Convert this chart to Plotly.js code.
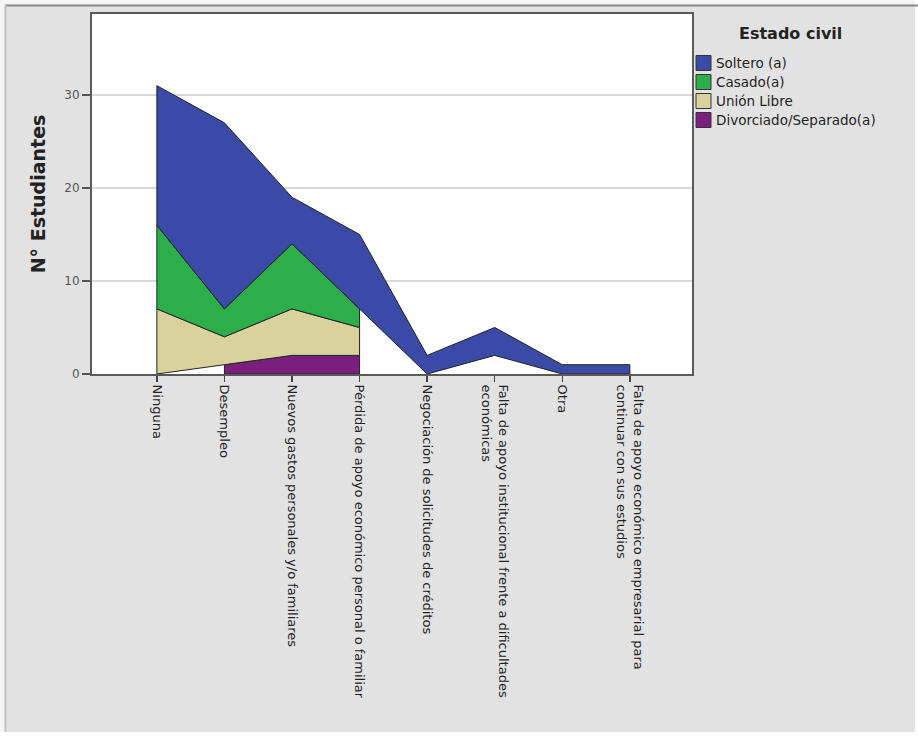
<!DOCTYPE html>
<html>
<head>
<meta charset="utf-8">
<script src="https://cdn.plot.ly/plotly-3.0.1.min.js"></script>
<style>html,body{margin:0;padding:0;background:#fff;}#chart{width:918px;height:739px;}</style>
</head>
<body>
<div id="chart"></div>
<script>
// ---- data ----
const categories = [
  "Ninguna",
  "Desempleo",
  "Nuevos gastos personales y/o familiares",
  "Pérdida de apoyo económico personal o familiar",
  "Negociación de solicitudes de créditos",
  "Falta de apoyo institucional frente a dificultades<br>económicas",
  "Otra",
  "Falta de apoyo económico empresarial para<br>continuar con sus estudios"
];
const seriesNames = ["Soltero (a)", "Casado(a)", "Unión Libre", "Divorciado/Separado(a)"];
const soltero    = [15, 20, 5, 8, 2, 3, 1, 1];
const casado     = [9, 3, 7, 2, null, 2, null, null];
const unionLibre = [7, 3, 5, 3, null, null, null, null];
const divorciado = [null, 1, 2, 2, null, null, null, null];
const yTicks = [0, 10, 20, 30];

// ---- styles ----
const colors = ["#3A4AA6", "#2CAE4B", "#D9D29D", "#7B1F7D"];
const FONT = "DejaVu Sans, Liberation Sans, Arial, sans-serif";

// stacking order bottom -> top
const stackOrder = [divorciado, unionLibre, casado, soltero];
const stackColors = [colors[3], colors[2], colors[1], colors[0]];
const stackNames = [seriesNames[3], seriesNames[2], seriesNames[1], seriesNames[0]];

const n = categories.length;
let base = new Array(n).fill(0);
const traces = [];
stackOrder.forEach((vals, s) => {
  const top = vals.map((v, i) => base[i] + (v == null ? 0 : v));
  // contiguous runs of non-null values
  let i = 0;
  while (i < n) {
    if (vals[i] == null) { i++; continue; }
    let j = i;
    while (j + 1 < n && vals[j + 1] != null) j++;
    if (j > i) {
      const xs = [], ys = [];
      for (let k = i; k <= j; k++) { xs.push(categories[k]); ys.push(top[k]); }
      for (let k = j; k >= i; k--) { xs.push(categories[k]); ys.push(base[k]); }
      xs.push(categories[i]); ys.push(top[i]);
      traces.push({
        type: "scatter", mode: "lines", x: xs, y: ys, fill: "toself",
        fillcolor: stackColors[s], line: {color: "#1e2420", width: 1},
        name: stackNames[s], showlegend: false, hoverinfo: "skip"
      });
    }
    i = j + 1;
  }
  base = top;
});

// pixel helpers for layout decorations
const L = 92, R = 692, T = 14, B = 374;
const px = v => (v - L) / (R - L);
const py = v => (B - v) / (B - T);

const shapes = [
  // outer frame
  {type:"rect", xref:"paper", yref:"paper", x0:px(0), x1:px(918), y0:py(0), y1:py(4.5), fillcolor:"#f4f4f4", line:{width:0}, layer:"below"},
  {type:"rect", xref:"paper", yref:"paper", x0:px(0), x1:px(4.5), y0:py(0), y1:py(739), fillcolor:"#f4f4f4", line:{width:0}, layer:"below"},
  {type:"rect", xref:"paper", yref:"paper", x0:px(0), x1:px(918), y0:py(732), y1:py(739), fillcolor:"#ffffff", line:{width:0}, layer:"below"},
  {type:"rect", xref:"paper", yref:"paper", x0:px(915), x1:px(918), y0:py(0), y1:py(739), fillcolor:"#ffffff", line:{width:0}, layer:"below"},
  {type:"line", xref:"paper", yref:"paper", x0:px(5), x1:px(918), y0:py(5.5), y1:py(5.5), line:{color:"#8a8a8a", width:2}},
  {type:"line", xref:"paper", yref:"paper", x0:px(5.5), x1:px(5.5), y0:py(5), y1:py(732), line:{color:"#c4c4c4", width:2}}
];
const annotations = [
  {xref:"paper", yref:"paper", x:px(790), y:py(33), xanchor:"center", yanchor:"middle",
   text:"<b>Estado civil</b>", showarrow:false, font:{family:FONT, size:16, color:"#222"}}
];
const legendY = [63, 82, 101, 120];
seriesNames.forEach((nm, k) => {
  const cy = legendY[k];
  shapes.push({type:"rect", xref:"paper", yref:"paper", x0:px(696), x1:px(711), y0:py(cy + 7.5), y1:py(cy - 7.5),
    fillcolor: colors[k], line:{color:"#333", width:1}});
  annotations.push({xref:"paper", yref:"paper", x:px(714), y:py(cy), xanchor:"left", yanchor:"middle",
    text:nm, showarrow:false, font:{family:FONT, size:13.5, color:"#222"}});
});

const layout = {
  width: 918, height: 739,
  margin: {l: L, r: 918 - R, t: T, b: 739 - B, pad: 0},
  paper_bgcolor: "#E3E2E3",
  plot_bgcolor: "#FFFFFF",
  showlegend: false,
  xaxis: {
    type: "category", categoryorder: "array", categoryarray: categories,
    range: [-0.96, 7.92], showgrid: false, zeroline: false,
    showline: true, mirror: true, linecolor: "#5a5a5a", linewidth: 2,
    ticks: "outside", ticklen: 6, tickcolor: "#444", tickwidth: 1.5,
    tickangle: 90, tickfont: {family: FONT, size: 13, color: "#222"}
  },
  yaxis: {
    range: [0, 38.7], tickvals: yTicks, ticktext: yTicks.map(String),
    showgrid: true, gridcolor: "#D8D8D8", gridwidth: 1.5, zeroline: false,
    showline: true, mirror: true, linecolor: "#5a5a5a", linewidth: 2,
    ticks: "outside", ticklen: 8, tickcolor: "#555", tickwidth: 1.5,
    tickfont: {family: FONT, size: 12, color: "#555"},
    title: {text: "<b>N° Estudiantes</b>", font: {family: FONT, size: 19, color: "#222"}, standoff: 14}
  },
  shapes: shapes,
  annotations: annotations
};

Plotly.newPlot("chart", traces, layout, {displayModeBar: false, staticPlot: true});
</script>
</body>
</html>
